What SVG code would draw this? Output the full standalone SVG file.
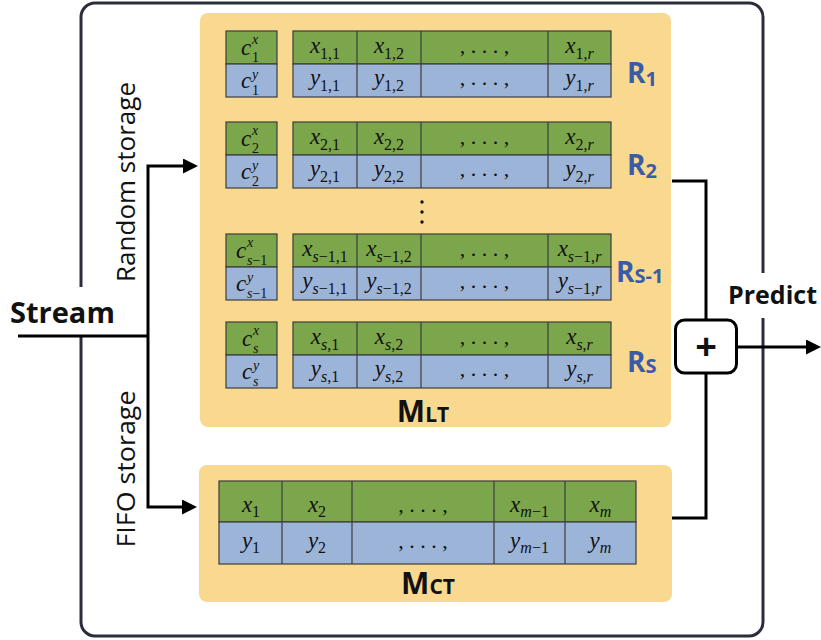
<svg xmlns="http://www.w3.org/2000/svg" width="821" height="640" viewBox="0 0 821 640">
  <defs>
    <style>
      .frame { fill: none; stroke: #2b2d3c; stroke-width: 3; }
      .panel { fill: #f9d88f; }
      .cg { fill: #7ca64c; stroke: #3d3d3d; stroke-width: 1.2; }
      .cb { fill: #9db4d9; stroke: #3d3d3d; stroke-width: 1.2; }
      .div { stroke: #3d3d3d; stroke-width: 1.2; }
      .wire { fill: none; stroke: #000; stroke-width: 3; }
      .m { font-family: "Liberation Serif", "Times New Roman", serif; font-size: 23px; font-style: italic; fill: #111; }
      .d { font-family: "Liberation Serif", "Times New Roman", serif; font-size: 22px; fill: #111; }
      .n { font-style: normal; }
      .s { font-size: 16px; }
      .t { font-size: 14px; }
      .lbl { font-family: "Open Sans", "Noto Sans", sans-serif; font-size: 26px; fill: #111; }
      .big { font-family: "Open Sans", "Noto Sans", sans-serif; font-weight: 700; fill: #111; }
      .rl { font-family: "Open Sans", "Noto Sans", sans-serif; font-weight: 700; font-size: 28px; fill: #3a5ba8; }
      .rs { font-size: 20px; }
    </style>
    <marker id="head" markerUnits="userSpaceOnUse" markerWidth="15" markerHeight="15" refX="5" refY="7.5" orient="auto">
      <path d="M0,0 L15,7.5 L0,15 z" fill="#000"/>
    </marker>
  </defs>

  <!-- outer frame, broken where the Stream and Predict labels sit -->
  <g id="frame">
    <path class="frame" d="M81,337 V622 A14,14 0 0 0 95,636 H749 A14,14 0 0 0 763,622 V318 M763,273 V17 A14,14 0 0 0 749,3 H95 A14,14 0 0 0 81,17 V287"/>
  </g>

  <!-- connectors -->
  <g id="connectors">
    <path class="wire" d="M18,336 H148"/>
    <path class="wire" d="M148,336 V166 H188" marker-end="url(#head)"/>
    <path class="wire" d="M148,336 V507 H187" marker-end="url(#head)"/>
    <path class="wire" d="M672,181 H706 V320"/>
    <path class="wire" d="M672,518 H706 V373"/>
    <path class="wire" d="M736,347 H811" marker-end="url(#head)"/>
  </g>

  <!-- input / output labels -->
  <g id="stream">
    <text class="big" x="10" y="323" font-size="29">Stream</text>
  </g>
  <g id="random-label">
    <text class="lbl" transform="translate(135,182) rotate(-90)" text-anchor="middle" textLength="200" lengthAdjust="spacingAndGlyphs">Random storage</text>
  </g>
  <g id="fifo-label">
    <text class="lbl" transform="translate(135,469) rotate(-90)" text-anchor="middle" textLength="157" lengthAdjust="spacingAndGlyphs">FIFO storage</text>
  </g>
  <g id="predict">
    <text class="big" x="728" y="304" font-size="25">Predict</text>
  </g>

  <!-- summation node -->
  <g id="sum">
    <rect x="675.5" y="320" width="61" height="53" rx="9" fill="#fff" stroke="#000" stroke-width="3"/>
    <text class="big" x="706" y="360" font-size="38" text-anchor="middle">+</text>
  </g>

  <!-- long-term memory -->
  <g id="m-lt">
    <rect class="panel" x="200" y="13" width="471" height="414" rx="8"/>

    <g id="row-1">
      <rect class="cg" x="226" y="31" width="51" height="33"/>
      <rect class="cb" x="226" y="64" width="51" height="33"/>
      <text class="m" x="241" y="55">c</text><text class="m t" x="252" y="44">x</text><text class="m t n" x="252" y="62">1</text>
      <text class="m" x="241" y="88">c</text><text class="m t" x="252" y="79">y</text><text class="m t n" x="252" y="95">1</text>
      <rect class="cg" x="293" y="31" width="318" height="33"/>
      <rect class="cb" x="293" y="64" width="318" height="33"/>
      <path class="div" d="M357,31 V97 M421,31 V97 M548,31 V97"/>
      <text class="m" x="325" y="53" text-anchor="middle">x<tspan class="s n" dy="6">1,1</tspan></text>
      <text class="m" x="389" y="53" text-anchor="middle">x<tspan class="s n" dy="6">1,2</tspan></text>
      <text class="d" x="484.5" y="53" text-anchor="middle">, . . . ,</text>
      <text class="m" x="579.5" y="53" text-anchor="middle">x<tspan class="s n" dy="6">1,</tspan><tspan class="s">r</tspan></text>
      <text class="m" x="325" y="85" text-anchor="middle">y<tspan class="s n" dy="6">1,1</tspan></text>
      <text class="m" x="389" y="85" text-anchor="middle">y<tspan class="s n" dy="6">1,2</tspan></text>
      <text class="d" x="484.5" y="85" text-anchor="middle">, . . . ,</text>
      <text class="m" x="579.5" y="85" text-anchor="middle">y<tspan class="s n" dy="6">1,</tspan><tspan class="s">r</tspan></text>
      <text class="rl" x="627" y="83">R<tspan class="rs" dy="3">1</tspan></text>
    </g>

    <g id="row-2">
      <rect class="cg" x="226" y="122" width="51" height="33"/>
      <rect class="cb" x="226" y="155" width="51" height="33"/>
      <text class="m" x="241" y="146">c</text><text class="m t" x="252" y="135">x</text><text class="m t n" x="252" y="153">2</text>
      <text class="m" x="241" y="179">c</text><text class="m t" x="252" y="170">y</text><text class="m t n" x="252" y="186">2</text>
      <rect class="cg" x="293" y="122" width="318" height="33"/>
      <rect class="cb" x="293" y="155" width="318" height="33"/>
      <path class="div" d="M357,122 V188 M421,122 V188 M548,122 V188"/>
      <text class="m" x="325" y="144" text-anchor="middle">x<tspan class="s n" dy="6">2,1</tspan></text>
      <text class="m" x="389" y="144" text-anchor="middle">x<tspan class="s n" dy="6">2,2</tspan></text>
      <text class="d" x="484.5" y="144" text-anchor="middle">, . . . ,</text>
      <text class="m" x="579.5" y="144" text-anchor="middle">x<tspan class="s n" dy="6">2,</tspan><tspan class="s">r</tspan></text>
      <text class="m" x="325" y="176" text-anchor="middle">y<tspan class="s n" dy="6">2,1</tspan></text>
      <text class="m" x="389" y="176" text-anchor="middle">y<tspan class="s n" dy="6">2,2</tspan></text>
      <text class="d" x="484.5" y="176" text-anchor="middle">, . . . ,</text>
      <text class="m" x="579.5" y="176" text-anchor="middle">y<tspan class="s n" dy="6">2,</tspan><tspan class="s">r</tspan></text>
      <text class="rl" x="627" y="175">R<tspan class="rs" dy="3">2</tspan></text>
    </g>

    <!-- vertical ellipsis between the rows -->
    <g id="vdots" fill="#111">
      <circle cx="422" cy="202" r="1.7"/>
      <circle cx="422" cy="212" r="1.7"/>
      <circle cx="422" cy="222" r="1.7"/>
    </g>

    <g id="row-s-1">
      <rect class="cg" x="226" y="234" width="51" height="33"/>
      <rect class="cb" x="226" y="267" width="51" height="33"/>
      <text class="m" x="236" y="258">c</text><text class="m t" x="247" y="247">x</text><text class="m t" x="247" y="265">s<tspan class="n">−1</tspan></text>
      <text class="m" x="236" y="291">c</text><text class="m t" x="247" y="282">y</text><text class="m t" x="247" y="298">s<tspan class="n">−1</tspan></text>
      <rect class="cg" x="293" y="234" width="318" height="33"/>
      <rect class="cb" x="293" y="267" width="318" height="33"/>
      <path class="div" d="M357,234 V300 M421,234 V300 M548,234 V300"/>
      <text class="m" x="325" y="256" text-anchor="middle">x<tspan class="s" dy="6">s</tspan><tspan class="s n">−1,1</tspan></text>
      <text class="m" x="389" y="256" text-anchor="middle">x<tspan class="s" dy="6">s</tspan><tspan class="s n">−1,2</tspan></text>
      <text class="d" x="484.5" y="256" text-anchor="middle">, . . . ,</text>
      <text class="m" x="579.5" y="256" text-anchor="middle">x<tspan class="s" dy="6">s</tspan><tspan class="s n">−1,</tspan><tspan class="s">r</tspan></text>
      <text class="m" x="325" y="288" text-anchor="middle">y<tspan class="s" dy="6">s</tspan><tspan class="s n">−1,1</tspan></text>
      <text class="m" x="389" y="288" text-anchor="middle">y<tspan class="s" dy="6">s</tspan><tspan class="s n">−1,2</tspan></text>
      <text class="d" x="484.5" y="288" text-anchor="middle">, . . . ,</text>
      <text class="m" x="579.5" y="288" text-anchor="middle">y<tspan class="s" dy="6">s</tspan><tspan class="s n">−1,</tspan><tspan class="s">r</tspan></text>
      <text class="rl" x="616" y="282">R<tspan class="rs" dy="1">S-1</tspan></text>
    </g>

    <g id="row-s">
      <rect class="cg" x="226" y="322" width="51" height="33"/>
      <rect class="cb" x="226" y="355" width="51" height="33"/>
      <text class="m" x="242" y="346">c</text><text class="m t" x="253" y="335">x</text><text class="m t" x="253" y="353">s</text>
      <text class="m" x="242" y="379">c</text><text class="m t" x="253" y="370">y</text><text class="m t" x="253" y="386">s</text>
      <rect class="cg" x="293" y="322" width="318" height="33"/>
      <rect class="cb" x="293" y="355" width="318" height="33"/>
      <path class="div" d="M357,322 V388 M421,322 V388 M548,322 V388"/>
      <text class="m" x="325" y="344" text-anchor="middle">x<tspan class="s" dy="6">s</tspan><tspan class="s n">,1</tspan></text>
      <text class="m" x="389" y="344" text-anchor="middle">x<tspan class="s" dy="6">s</tspan><tspan class="s n">,2</tspan></text>
      <text class="d" x="484.5" y="344" text-anchor="middle">, . . . ,</text>
      <text class="m" x="579.5" y="344" text-anchor="middle">x<tspan class="s" dy="6">s</tspan><tspan class="s n">,</tspan><tspan class="s">r</tspan></text>
      <text class="m" x="325" y="376" text-anchor="middle">y<tspan class="s" dy="6">s</tspan><tspan class="s n">,1</tspan></text>
      <text class="m" x="389" y="376" text-anchor="middle">y<tspan class="s" dy="6">s</tspan><tspan class="s n">,2</tspan></text>
      <text class="d" x="484.5" y="376" text-anchor="middle">, . . . ,</text>
      <text class="m" x="579.5" y="376" text-anchor="middle">y<tspan class="s" dy="6">s</tspan><tspan class="s n">,</tspan><tspan class="s">r</tspan></text>
      <text class="rl" x="627" y="372">R<tspan class="rs" dy="1">S</tspan></text>
    </g>

    <text class="big" x="423" y="422" font-size="30" text-anchor="middle">M<tspan font-size="21">LT</tspan></text>
  </g>

  <!-- current-trend memory -->
  <g id="m-ct">
    <rect class="panel" x="199" y="465" width="473" height="137" rx="8"/>
    <rect class="cg" x="219" y="481" width="417" height="41"/>
    <rect class="cb" x="219" y="522" width="417" height="42"/>
    <path class="div" d="M282,481 V564 M352,481 V564 M494,481 V564 M565,481 V564"/>
    <text class="m" x="251" y="512" text-anchor="middle">x<tspan class="s n" dy="5">1</tspan></text>
    <text class="m" x="317" y="512" text-anchor="middle">x<tspan class="s n" dy="5">2</tspan></text>
    <text class="d" x="423" y="512" text-anchor="middle">, . . . ,</text>
    <text class="m" x="529.5" y="512" text-anchor="middle">x<tspan class="s" dy="5">m</tspan><tspan class="s n">−1</tspan></text>
    <text class="m" x="600.5" y="512" text-anchor="middle">x<tspan class="s" dy="5">m</tspan></text>
    <text class="m" x="251" y="548" text-anchor="middle">y<tspan class="s n" dy="5">1</tspan></text>
    <text class="m" x="317" y="548" text-anchor="middle">y<tspan class="s n" dy="5">2</tspan></text>
    <text class="d" x="423" y="548" text-anchor="middle">, . . . ,</text>
    <text class="m" x="529.5" y="548" text-anchor="middle">y<tspan class="s" dy="5">m</tspan><tspan class="s n">−1</tspan></text>
    <text class="m" x="600.5" y="548" text-anchor="middle">y<tspan class="s" dy="5">m</tspan></text>
    <text class="big" x="428" y="594" font-size="30" text-anchor="middle">M<tspan font-size="21">CT</tspan></text>
  </g>
</svg>
